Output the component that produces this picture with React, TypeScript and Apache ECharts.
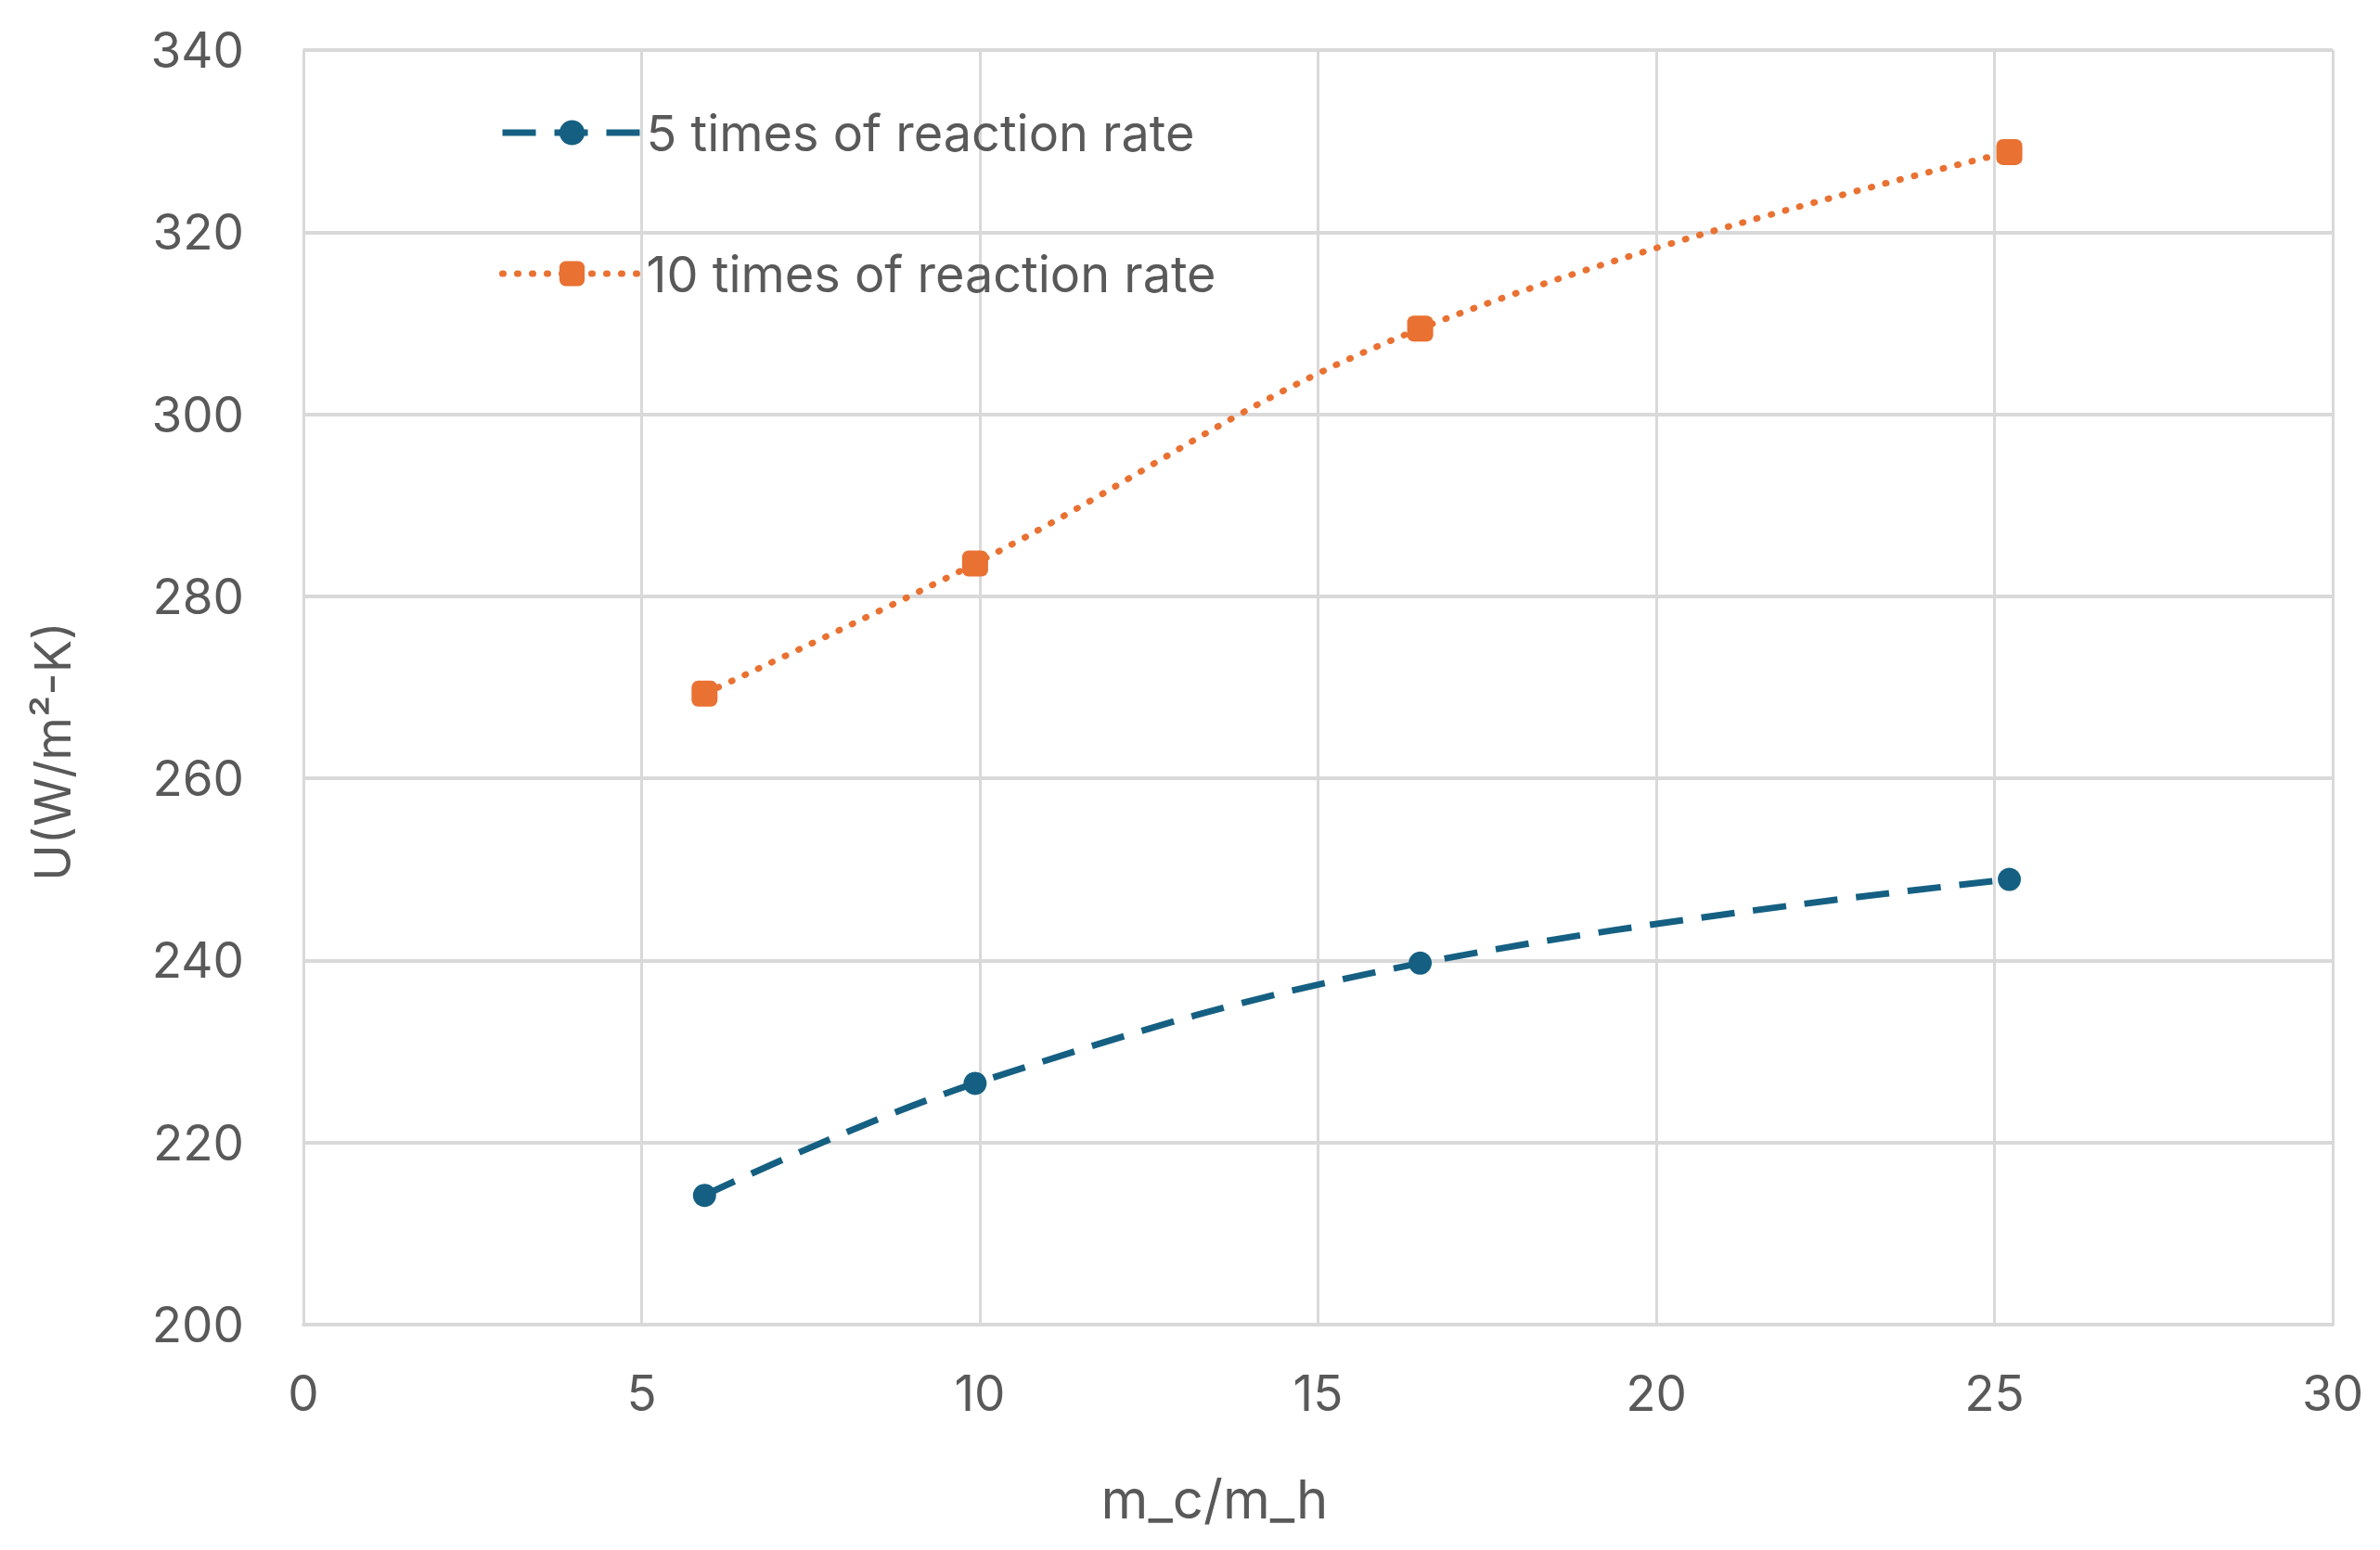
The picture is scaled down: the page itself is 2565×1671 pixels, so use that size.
import { useEffect, useRef } from 'react';
import * as echarts from 'echarts';

const xValues = [5.93, 9.93, 16.51, 25.22];
const rate5 = [214.2, 226.5, 239.7, 248.9];
const rate10 = [269.3, 283.6, 309.4, 328.8];
const seriesNames = ['5 times of reaction rate', '10 times of reaction rate'];
const xTitle = 'm_c/m_h';
const yTitle = 'U(W/m²-K)';

const FONT = 'Inter, "Noto Sans", sans-serif';
const TEXT = '#595959';
const GRID = '#d9d9d9';
const BLUE = '#156082';
const ORANGE = '#E97132';

export default function App() {
  const chartRef = useRef<HTMLDivElement>(null);

  useEffect(() => {
    if (!chartRef.current) return;
    document.body.style.margin = '0';
    const chart = echarts.init(chartRef.current, undefined, { renderer: 'svg' });

    const toPairs = (ys: number[]) => xValues.map((x, i) => [x, ys[i]]);

    const option = {
      animation: false,
      backgroundColor: '#fff',
      textStyle: { fontFamily: FONT },
      grid: { left: 327, right: 51, top: 54, bottom: 243, containLabel: false },
      legend: {
        orient: 'vertical',
        left: 533,
        top: 106,
        itemWidth: 150,
        itemHeight: 34,
        itemGap: 88,
        lineStyle: { width: 7 },
        textStyle: { fontSize: 54, color: TEXT, fontFamily: FONT, lineHeight: 64 },
        data: seriesNames,
      },
      xAxis: {
        type: 'value',
        min: 0,
        max: 30,
        interval: 5,
        axisLine: { show: true, lineStyle: { color: GRID, width: 4 } },
        axisTick: { show: false },
        axisLabel: { fontSize: 53, color: TEXT, margin: 47, fontFamily: FONT },
        splitLine: { show: true, lineStyle: { color: GRID, width: 3 } },
      },
      yAxis: {
        type: 'value',
        min: 200,
        max: 340,
        interval: 20,
        axisLine: { show: true, lineStyle: { color: GRID, width: 3 } },
        axisTick: { show: false },
        axisLabel: { fontSize: 53, color: TEXT, margin: 64, fontFamily: FONT },
        splitLine: { show: true, lineStyle: { color: GRID, width: 4 } },
      },
      graphic: [
        {
          type: 'text',
          x: 1309,
          y: 1616,
          style: {
            text: xTitle,
            fontSize: 58,
            fontFamily: FONT,
            fill: TEXT,
            align: 'center',
            verticalAlign: 'middle',
          },
        },
        {
          type: 'text',
          x: 57,
          y: 810,
          rotation: Math.PI / 2,
          style: {
            text: yTitle,
            fontSize: 53,
            fontFamily: FONT,
            fill: TEXT,
            align: 'center',
            verticalAlign: 'middle',
          },
        },
      ],
      series: [
        {
          name: seriesNames[0],
          type: 'line',
          data: toPairs(rate5),
          smooth: 0.4,
          symbol: 'circle',
          symbolSize: 25,
          itemStyle: { color: BLUE },
          lineStyle: { color: BLUE, width: 7, type: [36, 20] },
        },
        {
          name: seriesNames[1],
          type: 'line',
          data: toPairs(rate10),
          smooth: 0.4,
          symbol: 'roundRect',
          symbolSize: 28,
          itemStyle: { color: ORANGE },
          lineStyle: { color: ORANGE, width: 7, type: [1, 15], cap: 'round' },
        },
      ],
    };

    chart.setOption(option);

    return () => {
      chart.dispose();
    };
  }, []);

  return <div ref={chartRef} style={{ width: '2565px', height: '1671px' }} />;
}
